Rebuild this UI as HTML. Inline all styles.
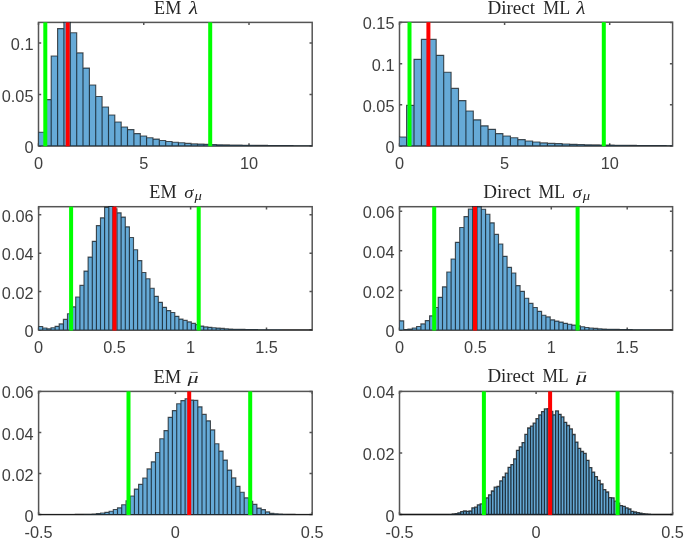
<!DOCTYPE html>
<html><head><meta charset="utf-8"><title>Histograms</title>
<style>html,body{margin:0;padding:0;background:#fff;}svg{display:block;}.t{font-family:"Liberation Sans",sans-serif;font-size:17.0px;fill:#404040;}.ti{font-family:"Liberation Serif",serif;fill:#262626;}</style></head><body>
<svg width="685" height="539" viewBox="0 0 685 539">
<rect x="0" y="0" width="685" height="539" fill="#ffffff"/>
<clipPath id="c0"><rect x="38.50" y="21.80" width="273.70" height="124.80"/></clipPath>
<g stroke="#555555" stroke-width="1.5" fill="none">
<rect x="38.50" y="22.40" width="273.70" height="123.60"/>
<path d="M38.50 146.00v-2.70M38.50 22.40v2.70M143.75 146.00v-2.70M143.75 22.40v2.70M249.00 146.00v-2.70M249.00 22.40v2.70M38.50 146.00h2.70M312.20 146.00h-2.70M38.50 94.50h2.70M312.20 94.50h-2.70M38.50 42.90h2.70M312.20 42.90h-2.70"/>
</g>
<g clip-path="url(#c0)">
<path d="M38.5 146V132.2H44.9V99.6H51.2V56H57.6V28.6H63.9V22.2H70.3V32.7H76.7V52.9H83V68.1H89.4V85H95.7V96.5H102.1V107H108.5V115H114.8V122H121.2V127H127.5V129.6H133.9V133.6H140.3V136H146.6V137.7H153V139.1H159.3V140.5H165.7V141.5H172.1V142.2H178.4V142.7H184.8V143.4H191.1V143.9H197.5V144.1H203.9V144.3H210.2V144.5H216.6V144.7H222.9V144.9H229.3V145H235.7V145.1H242V145.2H248.4V145.3H254.7V145.4H261.1V145.4H267.5V145.5H273.8V145.5H280.2V145.6H286.5V145.6H292.9V145.7H299.3V145.7H305.6V145.7H312V146Z" fill="#66aad7"/>
<path d="M38.5 146V132.2H44.9V146M44.9 146V99.6H51.2V146M51.2 146V56H57.6V146M57.6 146V28.6H63.9V146M63.9 146V22.2H70.3V146M70.3 146V32.7H76.7V146M76.7 146V52.9H83V146M83 146V68.1H89.4V146M89.4 146V85H95.7V146M95.7 146V96.5H102.1V146M102.1 146V107H108.5V146M108.5 146V115H114.8V146M114.8 146V122H121.2V146M121.2 146V127H127.5V146M127.5 146V129.6H133.9V146M133.9 146V133.6H140.3V146M140.3 146V136H146.6V146M146.6 146V137.7H153V146M153 146V139.1H159.3V146M159.3 146V140.5H165.7V146M165.7 146V141.5H172.1V146M172.1 146V142.2H178.4V146M178.4 146V142.7H184.8V146M184.8 146V143.4H191.1V146M191.1 146V143.9H197.5V146M197.5 146V144.1H203.9V146M203.9 146V144.3H210.2V146M210.2 146V144.5H216.6V146M216.6 146V144.7H222.9V146M222.9 146V144.9H229.3V146M229.3 146V145H235.7V146M235.7 146V145.1H242V146M242 146V145.2H248.4V146M248.4 146V145.3H254.7V146M254.7 146V145.4H261.1V146M261.1 146V145.4H267.5V146M267.5 146V145.5H273.8V146M273.8 146V145.5H280.2V146M280.2 146V145.6H286.5V146M286.5 146V145.6H292.9V146M292.9 146V145.7H299.3V146M299.3 146V145.7H305.6V146M305.6 146V145.7H312V146M38.5 145.9H312.2" fill="none" stroke="#000" stroke-opacity="0.66" stroke-width="1.15"/>
</g>
<g clip-path="url(#c0)">
<rect x="43.30" y="22.40" width="4.00" height="124.20" fill="#00ff00"/>
<rect x="65.70" y="22.40" width="4.00" height="124.20" fill="#ff0000"/>
<rect x="208.20" y="22.40" width="4.00" height="124.20" fill="#00ff00"/>
</g>
<clipPath id="c1"><rect x="399.50" y="21.60" width="273.10" height="125.00"/></clipPath>
<g stroke="#555555" stroke-width="1.5" fill="none">
<rect x="399.50" y="22.20" width="273.10" height="123.80"/>
<path d="M399.50 146.00v-2.70M399.50 22.20v2.70M504.60 146.00v-2.70M504.60 22.20v2.70M609.70 146.00v-2.70M609.70 22.20v2.70M399.50 146.00h2.70M672.60 146.00h-2.70M399.50 104.80h2.70M672.60 104.80h-2.70M399.50 63.80h2.70M672.60 63.80h-2.70M399.50 22.40h2.70M672.60 22.40h-2.70"/>
</g>
<g clip-path="url(#c1)">
<path d="M399.2 146V137H406.6V105.3H414V59.3H421.4V39.4H428.8V39.4H436.2V55.3H443.7V72.2H451.1V88.4H458.5V100.6H465.9V111H473.3V119.8H480.7V125.8H488.1V129.3H495.5V133.6H502.9V136H510.4V137.7H517.8V139.6H525.2V141H532.6V142H540V142.9H547.4V143.4H554.8V143.6H562.2V144H569.6V144.3H577V144.5H584.4V144.7H591.9V144.9H599.3V145H606.7V145.1H614.1V145.2H621.5V145.3H628.9V145.4H636.3V145.5H643.7V145.5H651.1V145.6H658.5V145.6H666V145.7H673.4V146Z" fill="#66aad7"/>
<path d="M399.2 146V137H406.6V146M406.6 146V105.3H414V146M414 146V59.3H421.4V146M421.4 146V39.4H428.8V146M428.8 146V39.4H436.2V146M436.2 146V55.3H443.7V146M443.7 146V72.2H451.1V146M451.1 146V88.4H458.5V146M458.5 146V100.6H465.9V146M465.9 146V111H473.3V146M473.3 146V119.8H480.7V146M480.7 146V125.8H488.1V146M488.1 146V129.3H495.5V146M495.5 146V133.6H502.9V146M502.9 146V136H510.4V146M510.4 146V137.7H517.8V146M517.8 146V139.6H525.2V146M525.2 146V141H532.6V146M532.6 146V142H540V146M540 146V142.9H547.4V146M547.4 146V143.4H554.8V146M554.8 146V143.6H562.2V146M562.2 146V144H569.6V146M569.6 146V144.3H577V146M577 146V144.5H584.4V146M584.5 146V144.7H591.9V146M591.9 146V144.9H599.3V146M599.3 146V145H606.7V146M606.7 146V145.1H614.1V146M614.1 146V145.2H621.5V146M621.5 146V145.3H628.9V146M628.9 146V145.4H636.3V146M636.3 146V145.5H643.7V146M643.7 146V145.5H651.1V146M651.1 146V145.6H658.5V146M658.5 146V145.6H666V146M666 146V145.7H673.4V146M399.5 145.9H672.6" fill="none" stroke="#000" stroke-opacity="0.66" stroke-width="1.15"/>
</g>
<g clip-path="url(#c1)">
<rect x="407.50" y="22.20" width="4.00" height="124.40" fill="#00ff00"/>
<rect x="426.40" y="22.20" width="4.00" height="124.40" fill="#ff0000"/>
<rect x="601.80" y="22.20" width="4.00" height="124.40" fill="#00ff00"/>
</g>
<clipPath id="c2"><rect x="38.60" y="206.10" width="273.60" height="124.60"/></clipPath>
<g stroke="#555555" stroke-width="1.5" fill="none">
<rect x="38.60" y="206.70" width="273.60" height="123.40"/>
<path d="M38.60 330.10v-2.70M38.60 206.70v2.70M114.60 330.10v-2.70M114.60 206.70v2.70M190.60 330.10v-2.70M190.60 206.70v2.70M266.50 330.10v-2.70M266.50 206.70v2.70M38.60 330.10h2.70M312.20 330.10h-2.70M38.60 291.60h2.70M312.20 291.60h-2.70M38.60 253.20h2.70M312.20 253.20h-2.70M38.60 214.80h2.70M312.20 214.80h-2.70"/>
</g>
<g clip-path="url(#c2)">
<path d="M38.6 330.1V326.5H42.7V328H46.9V328.7H51V327.7H55.1V326.3H59.2V323.9H63.4V319.4H67.5V313.7H71.6V306.8H75.7V297H79.9V285.4H84V271.1H88.1V257.1H92.3V241.3H96.4V225.6H100.5V217.8H104.6V207.3H108.8V206.4H112.9V208.7H117V212.8H121.1V217.1H125.3V226.8H129.4V237.5H133.5V249.7H137.6V260.6H141.8V272.5H145.9V278.7H150V288.2H154.2V296.3H158.3V302.3H162.4V307.3H166.5V310.6H170.7V312.5H174.8V316.3H178.9V319.1H183V320.4H187.2V321.9H191.3V323.4H195.4V324.6H199.6V326.1H203.7V326.9H207.8V327.3H211.9V327.7H216.1V328.1H220.2V328.4H224.3V328.7H228.4V329H232.6V329.2H236.7V329.3H240.8V329.4H244.9V329.5H249.1V329.6H253.2V329.6H257.3V329.7H261.5V329.7H265.6V329.8H269.7V329.8H273.8V329.8H278V329.8H282.1V329.9H286.2V329.9H290.3V329.9H294.5V329.9H298.6V329.9H302.7V329.9H306.9V329.9H311V329.9H315.1V330.1Z" fill="#66aad7"/>
<path d="M38.6 330.1V326.5H42.7V330.1M42.7 330.1V328H46.9V330.1M46.9 330.1V328.7H51V330.1M51 330.1V327.7H55.1V330.1M55.1 330.1V326.3H59.2V330.1M59.2 330.1V323.9H63.4V330.1M63.4 330.1V319.4H67.5V330.1M67.5 330.1V313.7H71.6V330.1M71.6 330.1V306.8H75.7V330.1M75.7 330.1V297H79.9V330.1M79.9 330.1V285.4H84V330.1M84 330.1V271.1H88.1V330.1M88.1 330.1V257.1H92.3V330.1M92.3 330.1V241.3H96.4V330.1M96.4 330.1V225.6H100.5V330.1M100.5 330.1V217.8H104.6V330.1M104.6 330.1V207.3H108.8V330.1M108.8 330.1V206.4H112.9V330.1M112.9 330.1V208.7H117V330.1M117 330.1V212.8H121.1V330.1M121.1 330.1V217.1H125.3V330.1M125.3 330.1V226.8H129.4V330.1M129.4 330.1V237.5H133.5V330.1M133.5 330.1V249.7H137.6V330.1M137.6 330.1V260.6H141.8V330.1M141.8 330.1V272.5H145.9V330.1M145.9 330.1V278.7H150V330.1M150 330.1V288.2H154.2V330.1M154.2 330.1V296.3H158.3V330.1M158.3 330.1V302.3H162.4V330.1M162.4 330.1V307.3H166.5V330.1M166.5 330.1V310.6H170.7V330.1M170.7 330.1V312.5H174.8V330.1M174.8 330.1V316.3H178.9V330.1M178.9 330.1V319.1H183V330.1M183 330.1V320.4H187.2V330.1M187.2 330.1V321.9H191.3V330.1M191.3 330.1V323.4H195.4V330.1M195.4 330.1V324.6H199.6V330.1M199.6 330.1V326.1H203.7V330.1M203.7 330.1V326.9H207.8V330.1M207.8 330.1V327.3H211.9V330.1M211.9 330.1V327.7H216.1V330.1M216.1 330.1V328.1H220.2V330.1M220.2 330.1V328.4H224.3V330.1M224.3 330.1V328.7H228.4V330.1M228.4 330.1V329H232.6V330.1M232.6 330.1V329.2H236.7V330.1M236.7 330.1V329.3H240.8V330.1M240.8 330.1V329.4H244.9V330.1M244.9 330.1V329.5H249.1V330.1M249.1 330.1V329.6H253.2V330.1M253.2 330.1V329.6H257.3V330.1M257.3 330.1V329.7H261.5V330.1M261.5 330.1V329.7H265.6V330.1M265.6 330.1V329.8H269.7V330.1M269.7 330.1V329.8H273.8V330.1M273.8 330.1V329.8H278V330.1M278 330.1V329.8H282.1V330.1M282.1 330.1V329.9H286.2V330.1M286.2 330.1V329.9H290.3V330.1M290.3 330.1V329.9H294.5V330.1M294.5 330.1V329.9H298.6V330.1M298.6 330.1V329.9H302.7V330.1M302.7 330.1V329.9H306.9V330.1M306.9 330.1V329.9H311V330.1M311 330.1V329.9H315.1V330.1M38.6 330H312.2" fill="none" stroke="#000" stroke-opacity="0.66" stroke-width="1.15"/>
</g>
<g clip-path="url(#c2)">
<rect x="69.10" y="206.70" width="4.00" height="124.00" fill="#00ff00"/>
<rect x="112.50" y="206.70" width="4.00" height="124.00" fill="#ff0000"/>
<rect x="196.70" y="206.70" width="4.00" height="124.00" fill="#00ff00"/>
</g>
<clipPath id="c3"><rect x="399.50" y="206.10" width="273.10" height="124.60"/></clipPath>
<g stroke="#555555" stroke-width="1.5" fill="none">
<rect x="399.50" y="206.70" width="273.10" height="123.40"/>
<path d="M399.50 330.10v-2.70M399.50 206.70v2.70M475.40 330.10v-2.70M475.40 206.70v2.70M551.30 330.10v-2.70M551.30 206.70v2.70M627.20 330.10v-2.70M627.20 206.70v2.70M399.50 330.10h2.70M672.60 330.10h-2.70M399.50 290.50h2.70M672.60 290.50h-2.70M399.50 250.80h2.70M672.60 250.80h-2.70M399.50 211.20h2.70M672.60 211.20h-2.70"/>
</g>
<g clip-path="url(#c3)">
<path d="M399.4 330.1V320.8H403.7V329.6H408V329.1H412.3V328H416.6V326.5H420.9V323.9H425.3V320.6H429.6V315.8H433.9V307.5H438.2V297.3H442.5V286.8H446.8V272H451.1V259H455.4V242.3H459.7V227.5H464V216.6H468.4V209H472.7V206.4H477V206.8H481.3V209.2H485.6V214.2H489.9V222.8H494.2V234.4H498.5V244H502.8V256.3H507.1V267.3H511.5V273H515.8V285.6H520.1V291.3H524.4V298.2H528.7V303.4H533V307.5H537.3V311.3H541.6V315.2H545.9V316.9H550.2V319.8H554.6V321.1H558.9V322.1H563.2V323.3H567.5V324.2H571.8V325.1H576.1V325.9H580.4V326.7H584.7V327.5H589V328H593.3V328.4H597.7V328.7H602V329H606.3V329.2H610.6V329.3H614.9V329.4H619.2V329.5H623.5V329.6H627.8V329.6H632.1V329.7H636.4V329.7H640.8V329.8H645.1V329.8H649.4V329.8H653.7V329.9H658V329.9H662.3V329.9H666.6V329.9H670.9V329.9H675.2V330.1Z" fill="#66aad7"/>
<path d="M399.4 330.1V320.8H403.7V330.1M403.7 330.1V329.6H408V330.1M408 330.1V329.1H412.3V330.1M412.3 330.1V328H416.6V330.1M416.6 330.1V326.5H420.9V330.1M420.9 330.1V323.9H425.3V330.1M425.3 330.1V320.6H429.6V330.1M429.6 330.1V315.8H433.9V330.1M433.9 330.1V307.5H438.2V330.1M438.2 330.1V297.3H442.5V330.1M442.5 330.1V286.8H446.8V330.1M446.8 330.1V272H451.1V330.1M451.1 330.1V259H455.4V330.1M455.4 330.1V242.3H459.7V330.1M459.7 330.1V227.5H464V330.1M464 330.1V216.6H468.4V330.1M468.4 330.1V209H472.7V330.1M472.7 330.1V206.4H477V330.1M477 330.1V206.8H481.3V330.1M481.3 330.1V209.2H485.6V330.1M485.6 330.1V214.2H489.9V330.1M489.9 330.1V222.8H494.2V330.1M494.2 330.1V234.4H498.5V330.1M498.5 330.1V244H502.8V330.1M502.8 330.1V256.3H507.1V330.1M507.1 330.1V267.3H511.5V330.1M511.5 330.1V273H515.8V330.1M515.8 330.1V285.6H520.1V330.1M520.1 330.1V291.3H524.4V330.1M524.4 330.1V298.2H528.7V330.1M528.7 330.1V303.4H533V330.1M533 330.1V307.5H537.3V330.1M537.3 330.1V311.3H541.6V330.1M541.6 330.1V315.2H545.9V330.1M545.9 330.1V316.9H550.2V330.1M550.2 330.1V319.8H554.6V330.1M554.6 330.1V321.1H558.9V330.1M558.9 330.1V322.1H563.2V330.1M563.2 330.1V323.3H567.5V330.1M567.5 330.1V324.2H571.8V330.1M571.8 330.1V325.1H576.1V330.1M576.1 330.1V325.9H580.4V330.1M580.4 330.1V326.7H584.7V330.1M584.7 330.1V327.5H589V330.1M589 330.1V328H593.3V330.1M593.3 330.1V328.4H597.7V330.1M597.7 330.1V328.7H602V330.1M602 330.1V329H606.3V330.1M606.3 330.1V329.2H610.6V330.1M610.6 330.1V329.3H614.9V330.1M614.9 330.1V329.4H619.2V330.1M619.2 330.1V329.5H623.5V330.1M623.5 330.1V329.6H627.8V330.1M627.8 330.1V329.6H632.1V330.1M632.1 330.1V329.7H636.4V330.1M636.4 330.1V329.7H640.8V330.1M640.8 330.1V329.8H645.1V330.1M645.1 330.1V329.8H649.4V330.1M649.4 330.1V329.8H653.7V330.1M653.7 330.1V329.9H658V330.1M658 330.1V329.9H662.3V330.1M662.3 330.1V329.9H666.6V330.1M666.6 330.1V329.9H670.9V330.1M670.9 330.1V329.9H675.2V330.1M399.5 330H672.6" fill="none" stroke="#000" stroke-opacity="0.66" stroke-width="1.15"/>
</g>
<g clip-path="url(#c3)">
<rect x="432.20" y="206.70" width="4.00" height="124.00" fill="#00ff00"/>
<rect x="473.00" y="206.70" width="4.00" height="124.00" fill="#ff0000"/>
<rect x="575.60" y="206.70" width="4.00" height="124.00" fill="#00ff00"/>
</g>
<clipPath id="c4"><rect x="38.60" y="390.80" width="273.60" height="124.40"/></clipPath>
<g stroke="#555555" stroke-width="1.5" fill="none">
<rect x="38.60" y="391.40" width="273.60" height="123.20"/>
<path d="M38.60 514.60v-2.70M38.60 391.40v2.70M175.40 514.60v-2.70M175.40 391.40v2.70M312.20 514.60v-2.70M312.20 391.40v2.70M38.60 514.60h2.70M312.20 514.60h-2.70M38.60 473.50h2.70M312.20 473.50h-2.70M38.60 432.50h2.70M312.20 432.50h-2.70M38.60 391.40h2.70M312.20 391.40h-2.70"/>
</g>
<g clip-path="url(#c4)">
<path d="M75.3 514.6V514.4H79.5V514.4H83.7V514.3H87.9V514.2H92.2V514H96.4V513.6H100.6V513H104.8V512.3H109.1V511.2H113.3V509.5H117.5V507.8H121.7V504.7H126V500.8H130.2V496H134.4V489.1H138.6V484.4H142.8V478H147.1V468.9H151.3V461.8H155.5V452.5H159.8V438.7H164V430.6H168.2V417.3H172.4V410.6H176.7V403.7H180.9V400.6H185.1V398.7H189.3V400.1H193.5V400.4H197.8V406.8H202V414.4H206.2V420.8H210.4V429.9H214.7V443.7H218.9V451.1H223.1V460.1H227.3V470.1H231.6V477.9H235.8V486.3H240V492.2H244.2V497.8H248.5V501.2H252.7V504.4H256.9V508.1H261.2V509.6H265.4V511.9H269.6V513.4H273.8V513.8H278.1V514.1H282.3V514.3H286.5V514.4H290.7V514.4H295V514.6Z" fill="#66aad7"/>
<path d="M75.3 514.6V514.4H79.5V514.6M79.5 514.6V514.4H83.7V514.6M83.7 514.6V514.3H87.9V514.6M87.9 514.6V514.2H92.2V514.6M92.2 514.6V514H96.4V514.6M96.4 514.6V513.6H100.6V514.6M100.6 514.6V513H104.8V514.6M104.8 514.6V512.3H109.1V514.6M109.1 514.6V511.2H113.3V514.6M113.3 514.6V509.5H117.5V514.6M117.5 514.6V507.8H121.7V514.6M121.7 514.6V504.7H126V514.6M126 514.6V500.8H130.2V514.6M130.2 514.6V496H134.4V514.6M134.4 514.6V489.1H138.6V514.6M138.6 514.6V484.4H142.8V514.6M142.8 514.6V478H147.1V514.6M147.1 514.6V468.9H151.3V514.6M151.3 514.6V461.8H155.5V514.6M155.5 514.6V452.5H159.8V514.6M159.8 514.6V438.7H164V514.6M164 514.6V430.6H168.2V514.6M168.2 514.6V417.3H172.4V514.6M172.4 514.6V410.6H176.7V514.6M176.7 514.6V403.7H180.9V514.6M180.9 514.6V400.6H185.1V514.6M185.1 514.6V398.7H189.3V514.6M189.3 514.6V400.1H193.5V514.6M193.6 514.6V400.4H197.8V514.6M197.8 514.6V406.8H202V514.6M202 514.6V414.4H206.2V514.6M206.2 514.6V420.8H210.4V514.6M210.4 514.6V429.9H214.7V514.6M214.7 514.6V443.7H218.9V514.6M218.9 514.6V451.1H223.1V514.6M223.1 514.6V460.1H227.3V514.6M227.3 514.6V470.1H231.6V514.6M231.6 514.6V477.9H235.8V514.6M235.8 514.6V486.3H240V514.6M240 514.6V492.2H244.2V514.6M244.2 514.6V497.8H248.5V514.6M248.5 514.6V501.2H252.7V514.6M252.7 514.6V504.4H256.9V514.6M256.9 514.6V508.1H261.2V514.6M261.1 514.6V509.6H265.4V514.6M265.4 514.6V511.9H269.6V514.6M269.6 514.6V513.4H273.8V514.6M273.8 514.6V513.8H278.1V514.6M278 514.6V514.1H282.3V514.6M282.3 514.6V514.3H286.5V514.6M286.5 514.6V514.4H290.7V514.6M290.7 514.6V514.4H295V514.6M38.6 514.5H312.2" fill="none" stroke="#000" stroke-opacity="0.66" stroke-width="1.15"/>
</g>
<g clip-path="url(#c4)">
<rect x="126.50" y="391.40" width="4.00" height="123.80" fill="#00ff00"/>
<rect x="187.20" y="391.40" width="4.00" height="123.80" fill="#ff0000"/>
<rect x="248.20" y="391.40" width="4.00" height="123.80" fill="#00ff00"/>
</g>
<clipPath id="c5"><rect x="399.50" y="390.80" width="273.10" height="124.40"/></clipPath>
<g stroke="#555555" stroke-width="1.5" fill="none">
<rect x="399.50" y="391.40" width="273.10" height="123.20"/>
<path d="M399.50 514.60v-2.70M399.50 391.40v2.70M536.10 514.60v-2.70M536.10 391.40v2.70M672.60 514.60v-2.70M672.60 391.40v2.70M399.50 514.60h2.70M672.60 514.60h-2.70M399.50 453.00h2.70M672.60 453.00h-2.70M399.50 391.40h2.70M672.60 391.40h-2.70"/>
</g>
<g clip-path="url(#c5)">
<path d="M444 514.6V514.4H446.8V514.4H449.5V514.3H452.3V514H455.1V513.6H457.9V512.8H460.7V511.7H463.5V511H466.3V511.3H469.1V511H471.9V507.8H474.7V507.2H477.4V504.8H480.2V503.9H483V501.1H485.8V497.8H488.6V494.8H491.4V491H494.2V487.2H497V486.5H499.8V480.8H502.6V477H505.3V473.2H508.1V467.3H510.9V464.6H513.7V458.8H516.5V450.3H519.3V446.8H522.1V442.6H524.9V434.4H527.7V428H530.5V426.2H533.2V423.2H536V418.7H538.8V414.9H541.6V411.6H544.4V408.9H547.2V408.6H550V411.4H552.8V414.8H555.6V410.9H558.4V414.3H561.1V416.9H563.9V422.3H566.7V425.5H569.5V428.9H572.3V434.5H575.1V442.1H577.9V448.3H580.7V451.5H583.5V453.4H586.2V460.3H589V467.6H591.8V472.1H594.6V476.6H597.4V480.4H600.2V484H603V489.6H605.8V492H608.6V497.7H611.4V497.8H614.1V501.2H616.9V503.1H619.7V505.6H622.5V506.3H625.3V507.8H628.1V509H630.9V511.3H633.7V512H636.5V512.6H639.3V513.2H642V513.7H644.8V514H647.6V514.2H650.4V514.3H653.2V514.4H656V514.4H658.8V514.6Z" fill="#66aad7"/>
<path d="M444 514.6V514.4H446.8V514.6M446.8 514.6V514.4H449.5V514.6M449.5 514.6V514.3H452.3V514.6M452.3 514.6V514H455.1V514.6M455.1 514.6V513.6H457.9V514.6M457.9 514.6V512.8H460.7V514.6M460.7 514.6V511.7H463.5V514.6M463.5 514.6V511H466.3V514.6M466.3 514.6V511.3H469.1V514.6M469.1 514.6V511H471.9V514.6M471.9 514.6V507.8H474.7V514.6M474.7 514.6V507.2H477.4V514.6M477.4 514.6V504.8H480.2V514.6M480.2 514.6V503.9H483V514.6M483 514.6V501.1H485.8V514.6M485.8 514.6V497.8H488.6V514.6M488.6 514.6V494.8H491.4V514.6M491.4 514.6V491H494.2V514.6M494.2 514.6V487.2H497V514.6M497 514.6V486.5H499.8V514.6M499.8 514.6V480.8H502.6V514.6M502.6 514.6V477H505.3V514.6M505.3 514.6V473.2H508.1V514.6M508.1 514.6V467.3H510.9V514.6M510.9 514.6V464.6H513.7V514.6M513.7 514.6V458.8H516.5V514.6M516.5 514.6V450.3H519.3V514.6M519.3 514.6V446.8H522.1V514.6M522.1 514.6V442.6H524.9V514.6M524.9 514.6V434.4H527.7V514.6M527.7 514.6V428H530.5V514.6M530.5 514.6V426.2H533.2V514.6M533.2 514.6V423.2H536V514.6M536 514.6V418.7H538.8V514.6M538.8 514.6V414.9H541.6V514.6M541.6 514.6V411.6H544.4V514.6M544.4 514.6V408.9H547.2V514.6M547.2 514.6V408.6H550V514.6M550 514.6V411.4H552.8V514.6M552.8 514.6V414.8H555.6V514.6M555.6 514.6V410.9H558.4V514.6M558.4 514.6V414.3H561.1V514.6M561.1 514.6V416.9H563.9V514.6M563.9 514.6V422.3H566.7V514.6M566.7 514.6V425.5H569.5V514.6M569.5 514.6V428.9H572.3V514.6M572.3 514.6V434.5H575.1V514.6M575.1 514.6V442.1H577.9V514.6M577.9 514.6V448.3H580.7V514.6M580.7 514.6V451.5H583.5V514.6M583.5 514.6V453.4H586.2V514.6M586.2 514.6V460.3H589V514.6M589 514.6V467.6H591.8V514.6M591.8 514.6V472.1H594.6V514.6M594.6 514.6V476.6H597.4V514.6M597.4 514.6V480.4H600.2V514.6M600.2 514.6V484H603V514.6M603 514.6V489.6H605.8V514.6M605.8 514.6V492H608.6V514.6M608.6 514.6V497.7H611.4V514.6M611.4 514.6V497.8H614.1V514.6M614.1 514.6V501.2H616.9V514.6M616.9 514.6V503.1H619.7V514.6M619.7 514.6V505.6H622.5V514.6M622.5 514.6V506.3H625.3V514.6M625.3 514.6V507.8H628.1V514.6M628.1 514.6V509H630.9V514.6M630.9 514.6V511.3H633.7V514.6M633.7 514.6V512H636.5V514.6M636.5 514.6V512.6H639.3V514.6M639.3 514.6V513.2H642V514.6M642 514.6V513.7H644.8V514.6M644.8 514.6V514H647.6V514.6M647.6 514.6V514.2H650.4V514.6M650.4 514.6V514.3H653.2V514.6M653.2 514.6V514.4H656V514.6M656 514.6V514.4H658.8V514.6M399.5 514.5H672.6" fill="none" stroke="#000" stroke-opacity="0.72" stroke-width="1.30"/>
</g>
<g clip-path="url(#c5)">
<rect x="481.90" y="391.40" width="4.00" height="123.80" fill="#00ff00"/>
<rect x="548.10" y="391.40" width="4.00" height="123.80" fill="#ff0000"/>
<rect x="615.60" y="391.40" width="4.00" height="123.80" fill="#00ff00"/>
</g>
<g style="filter:grayscale(1)">
<text class="t" transform="translate(38.50 168.90) scale(0.960 1)" text-anchor="middle">0</text>
<text class="t" transform="translate(143.75 168.90) scale(0.960 1)" text-anchor="middle">5</text>
<text class="t" transform="translate(249.00 168.90) scale(0.960 1)" text-anchor="middle">10</text>
<text class="t" transform="translate(33.50 153.00) scale(0.960 1)" text-anchor="end">0</text>
<text class="t" transform="translate(33.50 101.50) scale(0.960 1)" text-anchor="end">0.05</text>
<text class="t" transform="translate(33.50 49.90) scale(0.960 1)" text-anchor="end">0.1</text>
<text class="t" transform="translate(399.50 168.90) scale(0.960 1)" text-anchor="middle">0</text>
<text class="t" transform="translate(504.60 168.90) scale(0.960 1)" text-anchor="middle">5</text>
<text class="t" transform="translate(609.70 168.90) scale(0.960 1)" text-anchor="middle">10</text>
<text class="t" transform="translate(394.50 153.00) scale(0.960 1)" text-anchor="end">0</text>
<text class="t" transform="translate(394.50 111.80) scale(0.960 1)" text-anchor="end">0.05</text>
<text class="t" transform="translate(394.50 70.80) scale(0.960 1)" text-anchor="end">0.1</text>
<text class="t" transform="translate(394.50 29.40) scale(0.960 1)" text-anchor="end">0.15</text>
<text class="t" transform="translate(38.60 353.00) scale(0.960 1)" text-anchor="middle">0</text>
<text class="t" transform="translate(114.60 353.00) scale(0.960 1)" text-anchor="middle">0.5</text>
<text class="t" transform="translate(190.60 353.00) scale(0.960 1)" text-anchor="middle">1</text>
<text class="t" transform="translate(266.50 353.00) scale(0.960 1)" text-anchor="middle">1.5</text>
<text class="t" transform="translate(33.60 337.10) scale(0.960 1)" text-anchor="end">0</text>
<text class="t" transform="translate(33.60 298.60) scale(0.960 1)" text-anchor="end">0.02</text>
<text class="t" transform="translate(33.60 260.20) scale(0.960 1)" text-anchor="end">0.04</text>
<text class="t" transform="translate(33.60 221.80) scale(0.960 1)" text-anchor="end">0.06</text>
<text class="t" transform="translate(399.50 353.00) scale(0.960 1)" text-anchor="middle">0</text>
<text class="t" transform="translate(475.40 353.00) scale(0.960 1)" text-anchor="middle">0.5</text>
<text class="t" transform="translate(551.30 353.00) scale(0.960 1)" text-anchor="middle">1</text>
<text class="t" transform="translate(627.20 353.00) scale(0.960 1)" text-anchor="middle">1.5</text>
<text class="t" transform="translate(394.50 337.10) scale(0.960 1)" text-anchor="end">0</text>
<text class="t" transform="translate(394.50 297.50) scale(0.960 1)" text-anchor="end">0.02</text>
<text class="t" transform="translate(394.50 257.80) scale(0.960 1)" text-anchor="end">0.04</text>
<text class="t" transform="translate(394.50 218.20) scale(0.960 1)" text-anchor="end">0.06</text>
<text class="t" transform="translate(38.60 537.50) scale(0.960 1)" text-anchor="middle">-0.5</text>
<text class="t" transform="translate(175.40 537.50) scale(0.960 1)" text-anchor="middle">0</text>
<text class="t" transform="translate(312.20 537.50) scale(0.960 1)" text-anchor="middle">0.5</text>
<text class="t" transform="translate(33.60 521.60) scale(0.960 1)" text-anchor="end">0</text>
<text class="t" transform="translate(33.60 480.50) scale(0.960 1)" text-anchor="end">0.02</text>
<text class="t" transform="translate(33.60 439.50) scale(0.960 1)" text-anchor="end">0.04</text>
<text class="t" transform="translate(33.60 398.40) scale(0.960 1)" text-anchor="end">0.06</text>
<text class="t" transform="translate(399.50 537.50) scale(0.960 1)" text-anchor="middle">-0.5</text>
<text class="t" transform="translate(536.10 537.50) scale(0.960 1)" text-anchor="middle">0</text>
<text class="t" transform="translate(672.60 537.50) scale(0.960 1)" text-anchor="middle">0.5</text>
<text class="t" transform="translate(394.50 521.60) scale(0.960 1)" text-anchor="end">0</text>
<text class="t" transform="translate(394.50 460.00) scale(0.960 1)" text-anchor="end">0.02</text>
<text class="t" transform="translate(394.50 398.40) scale(0.960 1)" text-anchor="end">0.04</text>
<text class="ti" x="154.10" y="14.20" font-size="17.9" textLength="27.3" lengthAdjust="spacingAndGlyphs">EM</text>
<text class="ti" transform="translate(188.90 14.20) scale(1.130 0.980)" font-size="18.2" font-style="italic">&#955;</text>
<text class="ti" x="487.40" y="14.30" font-size="17.9" textLength="47.6" lengthAdjust="spacingAndGlyphs">Direct</text>
<text class="ti" x="543.20" y="14.30" font-size="17.9" textLength="26.9" lengthAdjust="spacingAndGlyphs">ML</text>
<text class="ti" transform="translate(576.40 14.30) scale(1.130 0.980)" font-size="18.2" font-style="italic">&#955;</text>
<text class="ti" x="149.30" y="197.60" font-size="17.9" textLength="27.3" lengthAdjust="spacingAndGlyphs">EM</text>
<text class="ti" transform="translate(184.30 197.60) scale(1.030 0.880)" font-size="18.2" font-style="italic">&#963;</text>
<text class="ti" transform="translate(194.40 200.30) scale(1.170 0.920)" font-size="12.5" font-style="italic">&#956;</text>
<text class="ti" x="483.30" y="197.70" font-size="17.9" textLength="47.6" lengthAdjust="spacingAndGlyphs">Direct</text>
<text class="ti" x="538.50" y="197.70" font-size="17.9" textLength="26.6" lengthAdjust="spacingAndGlyphs">ML</text>
<text class="ti" transform="translate(572.60 197.70) scale(1.030 0.880)" font-size="18.2" font-style="italic">&#963;</text>
<text class="ti" transform="translate(582.70 200.40) scale(1.170 0.920)" font-size="12.5" font-style="italic">&#956;</text>
<text class="ti" x="153.40" y="382.50" font-size="17.9" textLength="27.8" lengthAdjust="spacingAndGlyphs">EM</text>
<text class="ti" transform="translate(187.60 382.50) scale(1.220 0.820)" font-size="18.2" font-style="italic">&#956;</text>
<rect x="190.6" y="371.9" width="7.0" height="0.8" fill="#333"/>
<text class="ti" x="487.40" y="382.40" font-size="17.9" textLength="47.2" lengthAdjust="spacingAndGlyphs">Direct</text>
<text class="ti" x="542.60" y="382.40" font-size="17.9" textLength="26.0" lengthAdjust="spacingAndGlyphs">ML</text>
<text class="ti" transform="translate(576.00 382.40) scale(1.220 0.820)" font-size="18.2" font-style="italic">&#956;</text>
<rect x="578.8" y="371.8" width="7.0" height="0.8" fill="#333"/>
</g>
</svg></body></html>
